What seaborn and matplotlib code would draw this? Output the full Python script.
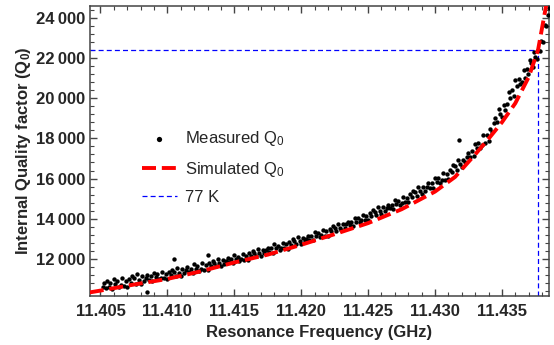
import pandas as pd
import seaborn as sns
import matplotlib.pyplot as plt
import matplotlib.ticker as ticker

sns.set_style("ticks")
plt.rcParams['font.family'] = ['Liberation Sans', 'DejaVu Sans']
plt.rcParams['mathtext.fontset'] = 'custom'
plt.rcParams['mathtext.rm'] = 'Liberation Sans'
plt.rcParams['mathtext.it'] = 'Liberation Sans:italic'
plt.rcParams['mathtext.bf'] = 'Liberation Sans:bold'

# measured resonance points (GHz, Q0)
meas_f = [
    11.40520, 11.40530, 11.40540,
    11.40550, 11.40562, 11.40575, 11.40588, 11.40600, 11.40612, 11.40625, 11.40638,
    11.40650, 11.40662, 11.40675, 11.40688, 11.40700, 11.40712, 11.40725, 11.40738,
    11.40750, 11.40762, 11.40775, 11.40788, 11.40800, 11.40812, 11.40825, 11.40838,
    11.40850, 11.40862, 11.40875, 11.40888, 11.40900, 11.40912, 11.40925, 11.40938,
    11.40950, 11.40962, 11.40975, 11.40988, 11.41000, 11.41012, 11.41025, 11.41038,
    11.41050, 11.41062, 11.41075, 11.41088, 11.41100, 11.41112, 11.41125, 11.41138,
    11.41150, 11.41162, 11.41175, 11.41188, 11.41200, 11.41212, 11.41225, 11.41238,
    11.41250, 11.41262, 11.41275, 11.41288, 11.41300, 11.41312, 11.41325, 11.41338,
    11.41350, 11.41362, 11.41375, 11.41388, 11.41400, 11.41412, 11.41425, 11.41438,
    11.41450, 11.41462, 11.41475, 11.41488, 11.41500, 11.41512, 11.41525, 11.41538,
    11.41550, 11.41562, 11.41575, 11.41588, 11.41600, 11.41612, 11.41625, 11.41638,
    11.41650, 11.41662, 11.41675, 11.41688, 11.41700, 11.41712, 11.41725, 11.41738,
    11.41750, 11.41762, 11.41775, 11.41788, 11.41800, 11.41812, 11.41825, 11.41838,
    11.41850, 11.41862, 11.41875, 11.41888, 11.41900, 11.41912, 11.41925, 11.41938,
    11.41950, 11.41962, 11.41975, 11.41988, 11.42000, 11.42012, 11.42025, 11.42038,
    11.42050, 11.42062, 11.42075, 11.42088, 11.42100, 11.42112, 11.42125, 11.42138,
    11.42150, 11.42162, 11.42175, 11.42188, 11.42200, 11.42212, 11.42225, 11.42238,
    11.42250, 11.42262, 11.42275, 11.42288, 11.42300, 11.42312, 11.42325, 11.42338,
    11.42350, 11.42362, 11.42375, 11.42388, 11.42400, 11.42412, 11.42425, 11.42438,
    11.42450, 11.42462, 11.42475, 11.42488, 11.42500, 11.42512, 11.42525, 11.42538,
    11.42550, 11.42562, 11.42575, 11.42588, 11.42600, 11.42612, 11.42625, 11.42638,
    11.42650, 11.42662, 11.42675, 11.42688, 11.42700, 11.42712, 11.42725, 11.42738,
    11.42750, 11.42762, 11.42775, 11.42788, 11.42800, 11.42812, 11.42825, 11.42838,
    11.42850, 11.42862, 11.42875, 11.42888, 11.42900, 11.42912, 11.42925, 11.42938,
    11.42950, 11.42962, 11.42975, 11.42988, 11.43000, 11.43012, 11.43025, 11.43038,
    11.43050, 11.43062, 11.43075, 11.43088, 11.43100, 11.43112, 11.43125, 11.43138,
    11.43150, 11.43162, 11.43175, 11.43188, 11.43200, 11.43212, 11.43225, 11.43238,
    11.43250, 11.43262, 11.43275, 11.43288, 11.43300, 11.43312, 11.43325, 11.43338,
    11.43350, 11.43362, 11.43375, 11.43388, 11.43400, 11.43412, 11.43425, 11.43438,
    11.43450, 11.43462, 11.43475, 11.43488, 11.43500, 11.43512, 11.43525, 11.43538,
    11.43550, 11.43562, 11.43575, 11.43588, 11.43600, 11.43612, 11.43625, 11.43638,
    11.43650, 11.43662, 11.43673, 11.43685, 11.43697, 11.43708,
    11.43720, 11.43730, 11.43740, 11.43750, 11.43760,
    11.43770, 11.43782, 11.43795, 11.43808, 11.43820, 11.43832, 11.43842, 11.43850,
    11.40850, 11.41050, 11.41300, 11.43180,
]
meas_q = [
    10620, 10780, 10560,
    10880, 10590, 10800, 10510, 11010, 10740, 10895, 10610,
    10700, 11030, 10640, 10890, 10585, 11020, 10820, 11145,
    11030, 10765, 11240, 10940, 10750, 11150, 10880, 11060,
    11190, 10955, 11130, 10880, 11315, 11080, 11225, 10985,
    11070, 11345, 11025, 11240, 10985, 11350, 11190, 11465,
    11370, 11160, 11555, 11315, 11160, 11500, 11275, 11435,
    11570, 11340, 11520, 11280, 11720, 11490, 11640, 11410,
    11500, 11780, 11460, 11675, 11425, 11795, 11635, 11910,
    11810, 11625, 11990, 11775, 11645, 11955, 11760, 11905,
    12035, 11830, 11995, 11780, 12180, 11975, 12110, 11905,
    11990, 12245, 11960, 12160, 11940, 12275, 12135, 12390,
    12310, 12130, 12495, 12285, 12155, 12465, 12275, 12425,
    12555, 12355, 12525, 12315, 12720, 12520, 12660, 12460,
    12550, 12805, 12525, 12730, 12515, 12855, 12715, 12975,
    12900, 12720, 13085, 12875, 12750, 13060, 12870, 12995,
    13155, 12960, 13130, 12925, 13330, 13130, 13275, 13080,
    13170, 13430, 13155, 13365, 13155, 13500, 13365, 13630,
    13560, 13385, 13755, 13550, 13430, 13745, 13560, 13715,
    13855, 13665, 13830, 13640, 14055, 13860, 14015, 13820,
    13920, 14185, 13915, 14140, 13925, 14275, 14155, 14435,
    14350, 14180, 14560, 14360, 14245, 14570, 14390, 14550,
    14695, 14510, 14695, 14500, 14920, 14735, 14890, 14705,
    14800, 15105, 14810, 15055, 14830, 15225, 15090, 15395,
    15330, 15145, 15590, 15375, 15210, 15595, 15400, 15555,
    15765, 15540, 15765, 15530, 16040, 15815, 16010, 15785,
    15910, 16260, 15950, 16230, 15995, 16445, 16310, 16660,
    16610, 16405, 16940, 16700, 16570, 16930, 16820, 17060,
    17295, 17060, 17355, 17105, 17735, 17500, 17755, 17520,
    17690, 18150, 17775, 18155, 17880, 18470, 18315, 18780,
    19035, 18805, 19485, 19210, 19065, 19660, 19410, 19735,
    20290, 20015, 20395, 20105, 20900, 20625, 20960, 20685,
    20820, 21390, 20995, 21465, 21190, 21890,
    21735, 21550, 22280, 22050, 21955,
    22420, 22330, 22860, 22780, 23650, 23600, 24150, 24500,
    10330, 11980, 12200, 17930,
]

# simulated Q0 curve
sim_f = [11.4042, 11.4050, 11.4075, 11.4100, 11.4125, 11.4150, 11.4175,
         11.4200, 11.4225, 11.4250, 11.4275, 11.4300, 11.4315, 11.4330,
         11.4340, 11.4350, 11.4360, 11.4370, 11.4377, 11.4383, 11.4387]
sim_q = [10330, 10420, 10720, 11000, 11380, 11820, 12210,
         12700, 13230, 13780, 14470, 15350, 16080, 17200,
         17980, 18800, 19750, 21050, 22400, 24600, 26000]

# 77 K operating point
f_77k = 11.4377
q_77k = 22400

measured = pd.DataFrame({"f": meas_f, "Q": meas_q})
simulated = pd.DataFrame({"f": sim_f, "Q": sim_q})

fig, ax = plt.subplots(figsize=(5.54, 3.45), dpi=100)
fig.subplots_adjust(left=0.1625, right=0.991, bottom=0.142, top=0.983)

sns.scatterplot(data=measured, x="f", y="Q", ax=ax, color="black", s=10,
                linewidth=0, label="Measured Q$_0$", zorder=3)
sns.lineplot(data=simulated, x="f", y="Q", ax=ax, color="#ff0000", linewidth=2.8,
             label="Simulated Q$_0$", zorder=4)
ax.lines[-1].set_dashes((3.6, 1.5))

ax.hlines(q_77k, 11.40422, f_77k, color="#0000ff", linewidth=0.9,
          linestyles=(0, (4, 2.5)), label="77 K", zorder=2)
ax.vlines(f_77k, 10150, q_77k, color="#0000ff", linewidth=0.9,
          linestyles=(0, (4, 2.5)), zorder=2)

ax.set_xlim(11.40422, 11.43852)
ax.set_ylim(10150, 24600)

ax.xaxis.set_major_locator(ticker.MultipleLocator(0.005))
ax.xaxis.set_minor_locator(ticker.MultipleLocator(0.001))
ax.xaxis.set_major_formatter(ticker.FormatStrFormatter("%.3f"))
ax.yaxis.set_major_locator(ticker.MultipleLocator(2000))
ax.yaxis.set_minor_locator(ticker.MultipleLocator(400))
ax.yaxis.set_major_formatter(
    ticker.FuncFormatter(lambda v, p: f"{v:,.0f}".replace(",", "\u2009")))

ax.tick_params(which="both", direction="in", top=True, right=True,
               color="#444444", labelsize=12)
ax.tick_params(axis="x", which="major", pad=6)
ax.tick_params(which="major", length=5, width=1)
ax.tick_params(which="minor", length=3, width=0.8)
for lab in ax.get_xticklabels() + ax.get_yticklabels():
    lab.set_fontweight("bold")
for sp in ax.spines.values():
    sp.set_visible(True)
    sp.set_color("#444444")
    sp.set_linewidth(1.1)

ax.set_xlabel("Resonance Frequency (GHz)", fontsize=12, fontweight="bold")
ax.set_ylabel(r"Internal Quality factor (Q$_\mathbf{0}$)", fontsize=12,
              fontweight="bold", labelpad=2)

ax.legend(loc="upper left", bbox_to_anchor=(0.113, 0.575), frameon=False,
          fontsize=12, scatterpoints=1, markerscale=1.2, handlelength=2.1,
          handletextpad=0.5, labelspacing=0.68, borderpad=0, borderaxespad=0)

fig.savefig("out.png", dpi=100)
